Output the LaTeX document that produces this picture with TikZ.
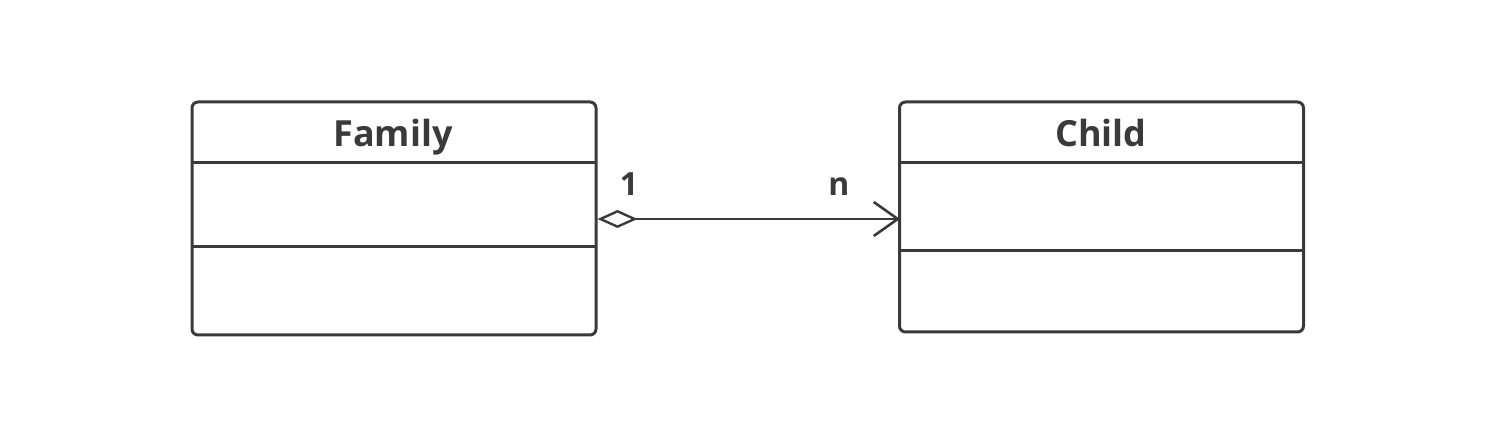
\documentclass[tikz,border=0pt]{standalone}
\usepackage{fontspec}
\newfontfamily\uifont{Open Sans}
\usetikzlibrary{arrows.meta}
\definecolor{ink}{HTML}{3A3A3A}
\tikzset{
  classbox/.style={draw=ink, line width=1.5pt, rounded corners=3pt, minimum width=202pt},
  classname/.style={anchor=base, text=ink, font=\uifont\bfseries\fontsize{18}{20}\selectfont},
  mult/.style={anchor=base, text=ink, font=\uifont\bfseries\fontsize{16}{18}\selectfont},
  agg/.style={draw=ink, line width=1.2pt,
    {Diamond[open, length=20pt, width=9pt, line width=1.2pt]}-{Straight Barb[length=12pt, width=17pt, line width=1.3pt]}}
}
\begin{document}
\begin{tikzpicture}[x=0.5pt, y=-0.5pt]
            \useasboundingbox (0,0) rectangle (1488,442);
            % class boxes
            \node[classbox, minimum height=116.5pt] (family) at (394,218.5) {};
            \node[classbox, minimum height=115pt] (child) at (1101.5,217) {};
            \node[classname] (familyname) at (393,147) {Family};
            \node[classname] (childname) at (1101,147) {Child};
            % compartments
            \draw[ink, line width=1.5pt] (192,163) -- (596,163);
            \draw[ink, line width=1.5pt] (192,247) -- (596,247);
            \draw[ink, line width=1.5pt] (900,163) -- (1303,163);
            \draw[ink, line width=1.5pt] (900,251) -- (1303,251);
            % aggregation
            \coordinate (aggend) at (900,219);
            \draw[agg] (family.east |- aggend) -- (aggend);
            \node[mult] (one) at (629,196) {1};
            \node[mult] (many) at (839,196) {n};
          \end{tikzpicture}
\end{document}
